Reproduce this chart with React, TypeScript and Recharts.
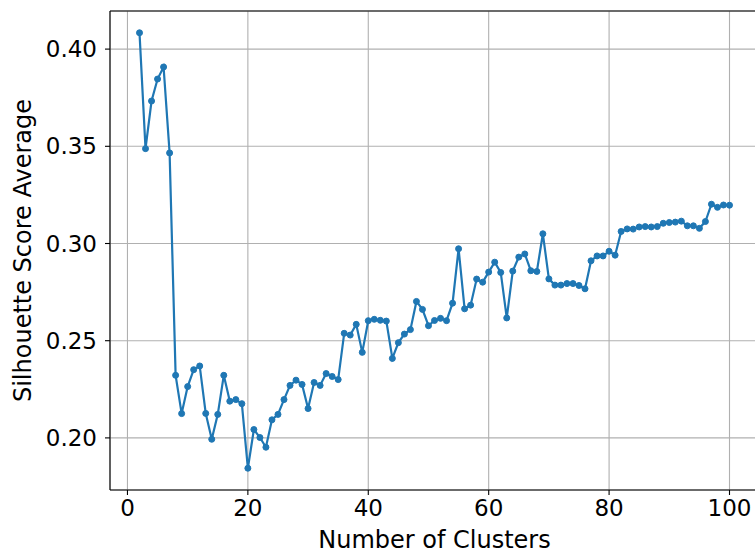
import { CartesianGrid, Line, LineChart, ReferenceLine, XAxis, YAxis } from 'recharts';

const clusters = [
  2, 3, 4, 5, 6, 7, 8, 9, 10, 11, 12, 13, 14, 15, 16, 17, 18, 19, 20, 21,
  22, 23, 24, 25, 26, 27, 28, 29, 30, 31, 32, 33, 34, 35, 36, 37, 38, 39, 40,
  41, 42, 43, 44, 45, 46, 47, 48, 49, 50, 51, 52, 53, 54, 55, 56, 57, 58, 59,
  60, 61, 62, 63, 64, 65, 66, 67, 68, 69, 70, 71, 72, 73, 74, 75, 76, 77, 78,
  79, 80, 81, 82, 83, 84, 85, 86, 87, 88, 89, 90, 91, 92, 93, 94, 95, 96, 97,
  98, 99, 100,
];

const silhouette = [
  0.4084, 0.3488, 0.3733, 0.3846, 0.3908, 0.3466, 0.2322, 0.2125, 0.2264,
  0.2351, 0.237, 0.2126, 0.1993, 0.2121, 0.2322, 0.2189, 0.2197, 0.2176,
  0.1844, 0.2043, 0.2002, 0.1952, 0.2093, 0.2121, 0.2197, 0.227, 0.2297,
  0.2275, 0.2151, 0.2285, 0.227, 0.2331, 0.2316, 0.23, 0.2538, 0.2529, 0.2584,
  0.244, 0.2603, 0.261, 0.2605, 0.2601, 0.2409, 0.249, 0.2534, 0.2557, 0.2702,
  0.2661, 0.2577, 0.2604, 0.2615, 0.2603, 0.2693, 0.2973, 0.2664, 0.2683,
  0.2817, 0.2801, 0.2853, 0.2904, 0.2851, 0.2617, 0.2858, 0.293, 0.2946,
  0.286, 0.2856, 0.305, 0.2818, 0.2786, 0.2786, 0.2794, 0.2794, 0.2784,
  0.2767, 0.2911, 0.2936, 0.2936, 0.296, 0.294, 0.3062, 0.3075, 0.3074,
  0.3085, 0.3087, 0.3085, 0.3087, 0.3104, 0.3108, 0.311, 0.3115, 0.3091,
  0.3091, 0.3078, 0.3113, 0.3202, 0.3186, 0.3198, 0.3197,
];

const xTicks = [0, 20, 40, 60, 80, 100];
const yTicks = [0.2, 0.25, 0.3, 0.35, 0.4];

const data = clusters.map((k, i) => ({ k, score: silhouette[i] }));

const FONT = 'DejaVu Sans';
const Y_TOP = 0.4196;

export default function App() {
  return (
    <div
      style={{
        position: 'absolute',
        left: 0,
        top: 0,
        width: 755,
        height: 554,
        overflow: 'hidden',
        background: '#fff',
      }}
    >
      <LineChart
        width={759}
        height={554}
        data={data}
        margin={{ top: 11, right: 0, bottom: 0, left: 0 }}
        style={{ fontFamily: FONT }}
      >
        <CartesianGrid stroke="#b0b0b0" strokeWidth={1.1} />
        <XAxis
          dataKey="k"
          type="number"
          domain={[-2.9, 104.9]}
          allowDataOverflow
          ticks={xTicks}
          height={64}
          tickSize={5}
          tickMargin={5}
          tick={{ fill: '#000', fontSize: 23, fontFamily: FONT }}
          tickLine={{ stroke: '#000', strokeWidth: 1.1 }}
          axisLine={{ stroke: '#000', strokeWidth: 1.1 }}
          label={{
            content: ({ viewBox }: any) => (
              <text
                x={viewBox.x + viewBox.width / 2}
                y={548}
                textAnchor="middle"
                fontSize={24}
                fontFamily={FONT}
                fill="#000"
              >
                Number of Clusters
              </text>
            ),
          }}
        />
        <YAxis
          type="number"
          domain={[0.1732, Y_TOP]}
          allowDataOverflow
          ticks={yTicks}
          width={110}
          tickSize={5}
          tickMargin={8}
          tickFormatter={(v: number) => v.toFixed(2)}
          tick={{ fill: '#000', fontSize: 23, fontFamily: FONT }}
          tickLine={{ stroke: '#000', strokeWidth: 1.1 }}
          axisLine={{ stroke: '#000', strokeWidth: 1.1 }}
          label={{
            content: ({ viewBox }: any) => {
              const cy = viewBox.y + viewBox.height / 2;
              return (
                <text
                  x={31}
                  y={cy}
                  transform={`rotate(-90 31 ${cy})`}
                  textAnchor="middle"
                  fontSize={24}
                  fontFamily={FONT}
                  fill="#000"
                >
                  Silhouette Score Average
                </text>
              );
            },
          }}
        />
        <ReferenceLine y={Y_TOP} stroke="#000" strokeWidth={1.1} ifOverflow="visible" />
        <Line
          type="linear"
          dataKey="score"
          stroke="#1f77b4"
          strokeWidth={2.2}
          dot={{ r: 3, fill: '#1f77b4', stroke: '#1f77b4', strokeWidth: 1 }}
          activeDot={false}
          isAnimationActive={false}
        />
      </LineChart>
    </div>
  );
}
